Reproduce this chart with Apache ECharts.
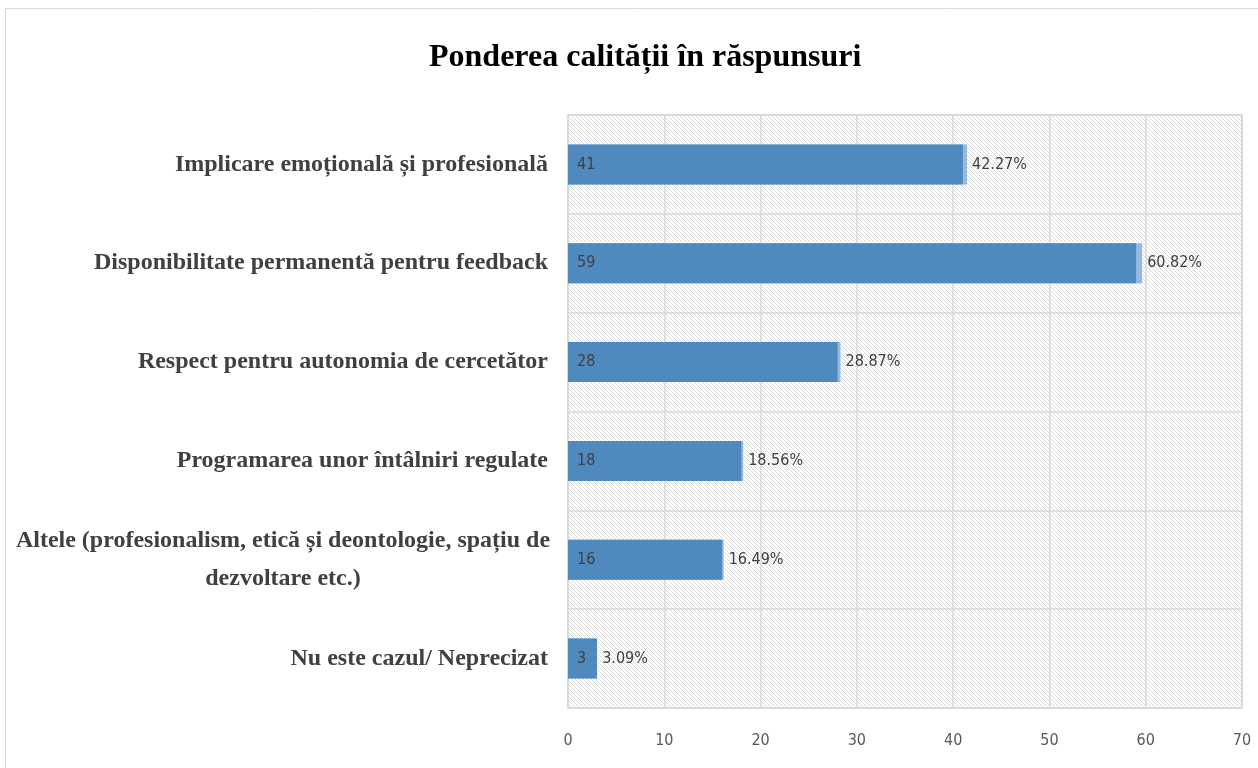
<!DOCTYPE html>
<html>
<head>
<meta charset="utf-8">
<script src="https://cdn.jsdelivr.net/npm/echarts@6/dist/echarts.min.js"></script>
<style>
  html, body { margin: 0; padding: 0; background: #fff; }
  #main { width: 1258px; height: 768px; }
</style>
</head>
<body>
<div id="main"></div>
<script>
// data
var categories = [
  'Implicare emoțională și profesională',
  'Disponibilitate permanentă pentru feedback',
  'Respect pentru autonomia de cercetător',
  'Programarea unor întâlniri regulate',
  'Altele (profesionalism, etică și deontologie, spațiu de\ndezvoltare etc.)',
  'Nu este cazul/ Neprecizat'
];
var counts = [41, 59, 28, 18, 16, 3];
var percents = [42.27, 60.82, 28.87, 18.56, 16.49, 3.09];
var xTicks = [0, 10, 20, 30, 40, 50, 60, 70];

// hatch pattern for the plot area
var hatch = document.createElement('canvas');
hatch.width = 8;
hatch.height = 8;
var ctx = hatch.getContext('2d');
ctx.fillStyle = '#ffffff';
ctx.fillRect(0, 0, 8, 8);
ctx.strokeStyle = 'rgba(175,175,175,0.45)';
ctx.lineWidth = 1;
for (var x = -8; x <= 8; x += 4) {
  ctx.beginPath();
  ctx.moveTo(x, 0);
  ctx.lineTo(x + 8, 8);
  ctx.stroke();
}

var labelFont = '"Liberation Sans Narrow", "DejaVu Sans Condensed", "Liberation Sans", sans-serif';
var serif = '"Liberation Serif", "Times New Roman", serif';

var myChart = echarts.init(document.getElementById('main'));
myChart.setOption({
  animation: false,
  title: {
    text: 'Ponderea calității în răspunsuri',
    left: 424,
    top: 37,
    textStyle: {
      fontFamily: serif,
      fontWeight: 'bold',
      fontSize: 32,
      color: '#000'
    }
  },
  graphic: [{
    type: 'rect',
    shape: { x: 5.5, y: 8.5, width: 1300, height: 800 },
    style: { fill: null, stroke: '#d9d9d9', lineWidth: 1 },
    silent: true
  }],
  grid: {
    left: 568,
    right: 16,
    top: 115,
    bottom: 60,
    show: true,
    borderColor: '#d9d9d9',
    borderWidth: 1.5,
    backgroundColor: { image: hatch, repeat: 'repeat' }
  },
  xAxis: [{
    type: 'value',
    min: 0,
    max: 70,
    interval: 10,
    axisLine: { show: false },
    axisTick: { show: false },
    splitLine: { lineStyle: { color: '#d9d9d9', width: 1.5 } },
    axisLabel: {
      margin: 25,
      fontFamily: labelFont,
      fontSize: 16,
      color: '#595959',
      formatter: function (v) { return xTicks.indexOf(v) >= 0 ? String(v) : ''; }
    }
  }, {
    // hidden secondary axis used by the percentage bars
    type: 'value',
    min: 0,
    max: 71.4,
    show: false,
    splitLine: { show: false }
  }],
  yAxis: {
    type: 'category',
    data: categories,
    inverse: true,
    axisLine: { show: false },
    axisTick: { show: false },
    splitLine: { show: true, lineStyle: { color: '#d9d9d9', width: 1.5 } },
    axisLabel: {
      margin: 20,
      fontFamily: serif,
      fontWeight: 'bold',
      fontSize: 24,
      lineHeight: 38,
      color: '#404040',
      formatter: function (v) {
        if (v.indexOf('\n') < 0) return v;
        return v.split('\n').map(function (s) { return '{c|' + s + '}'; }).join('\n');
      },
      rich: {
        c: {
          width: 530,
          align: 'center',
          fontFamily: serif,
          fontWeight: 'bold',
          fontSize: 24,
          lineHeight: 38,
          color: '#404040'
        }
      }
    }
  },
  series: [{
    name: 'Procent',
    type: 'bar',
    xAxisIndex: 1,
    data: percents,
    barWidth: 40,
    itemStyle: { color: '#95b9e0' },
    label: {
      show: true,
      position: 'right',
      distance: 5,
      fontFamily: labelFont,
      fontSize: 16,
      color: '#404040',
      formatter: function (p) { return p.value.toFixed(2) + '%'; }
    },
    z: 2
  }, {
    name: 'Număr',
    type: 'bar',
    xAxisIndex: 0,
    data: counts,
    barWidth: 40,
    barGap: '-100%',
    itemStyle: { color: '#4f89bd' },
    label: {
      show: true,
      position: 'insideLeft',
      distance: 9,
      fontFamily: labelFont,
      fontSize: 16,
      color: '#404040'
    },
    z: 3
  }]
});
</script>
</body>
</html>
